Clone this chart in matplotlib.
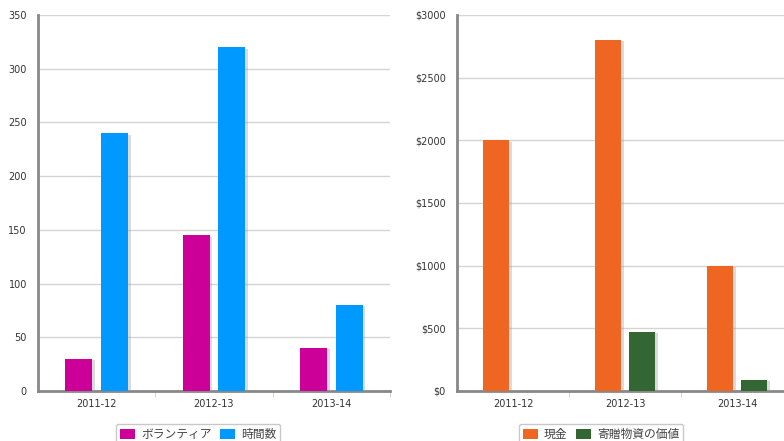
import numpy as np
import matplotlib.pyplot as plt
import matplotlib.patheffects as pe
from matplotlib.patches import Patch

plt.rcParams['font.family'] = ['DejaVu Sans', 'Noto Sans CJK JP']

years = ["2011-12", "2012-13", "2013-14"]

volunteers = [30, 145, 40]
hours = [240, 320, 80]
vol_labels = ["ボランティア", "時間数"]

cash = [2000, 2800, 1000]
in_kind = [0, 470, 90]
money_labels = ["現金", "寄贈物資の価値"]
money_ticks = [0, 500, 1000, 1500, 2000, 2500, 3000]
money_ticklabels = ["$0", "$500", "$1000", "$1500", "$2000", "$2500", "$3000"]

c_purple = "#cc0099"
c_blue = "#0099ff"
c_orange = "#ee6622"
c_green = "#336633"

W, H = 784, 441
fig = plt.figure(figsize=(W / 100, H / 100), dpi=100)

shadow = [pe.SimplePatchShadow(offset=(2, -1), shadow_rgbFace="#999999", alpha=0.35), pe.Normal()]


def style_axes(ax, ymax, step):
    ax.set_xlim(-0.5, 2.5)
    ax.set_ylim(0, ymax)
    ax.set_yticks(np.arange(0, ymax + 1, step))
    ax.yaxis.grid(True, color="#d4d4d4", linewidth=1)
    ax.set_axisbelow(True)
    for s in ["top", "right"]:
        ax.spines[s].set_visible(False)
    for s in ["left", "bottom"]:
        ax.spines[s].set_color("#888888")
        ax.spines[s].set_linewidth(2)
    ax.set_xticks(range(3))
    ax.set_xticklabels(years)
    ax.set_xticks([0.5, 1.5, 2.5], minor=True)
    ax.tick_params(axis="x", which="major", length=0, pad=6, labelsize=7, labelcolor="#333333")
    ax.tick_params(axis="x", which="minor", length=4, color="#cccccc")
    ax.tick_params(axis="y", length=0, pad=8, labelsize=7, labelcolor="#333333")


x = np.arange(len(years))
bw = 0.23
off = 0.152

# left chart
ax1 = fig.add_axes([38 / W, 1 - 391 / H, 352 / W, 376 / H])
b1 = ax1.bar(x - off, volunteers, bw, color=c_purple, zorder=3)
b2 = ax1.bar(x + off, hours, bw, color=c_blue, zorder=3)
for b in list(b1) + list(b2):
    b.set_path_effects(shadow)
style_axes(ax1, 350, 50)

# right chart
ax2 = fig.add_axes([457 / W, 1 - 391 / H, 336 / W, 376 / H])
b3 = ax2.bar(x - off, cash, bw, color=c_orange, zorder=3)
b4 = ax2.bar(x + off, in_kind, bw, color=c_green, zorder=3)
for b in list(b3) + list(b4):
    b.set_path_effects(shadow)
style_axes(ax2, 3000, 500)
ax2.set_yticks(money_ticks)
ax2.set_yticklabels(money_ticklabels)

leg_kw = dict(loc="upper center", ncol=2, frameon=True, fontsize=8.5,
              handlelength=1.3, handleheight=1.0, handletextpad=0.5,
              columnspacing=0.7, borderpad=0.35, fancybox=True,
              edgecolor="#bbbbbb", labelcolor="#444444")

h1 = [Patch(facecolor=c_purple), Patch(facecolor=c_blue)]
l1 = fig.legend(h1, vol_labels, bbox_to_anchor=(198 / W, 1 - 418 / H), **leg_kw)
h2 = [Patch(facecolor=c_orange), Patch(facecolor=c_green)]
l2 = fig.legend(h2, money_labels, bbox_to_anchor=(601 / W, 1 - 418 / H), **leg_kw)
for lg in (l1, l2):
    for t in lg.get_texts():
        t.set_family(['Noto Sans CJK JP', 'DejaVu Sans'])

fig.savefig("out.png", dpi=100)
